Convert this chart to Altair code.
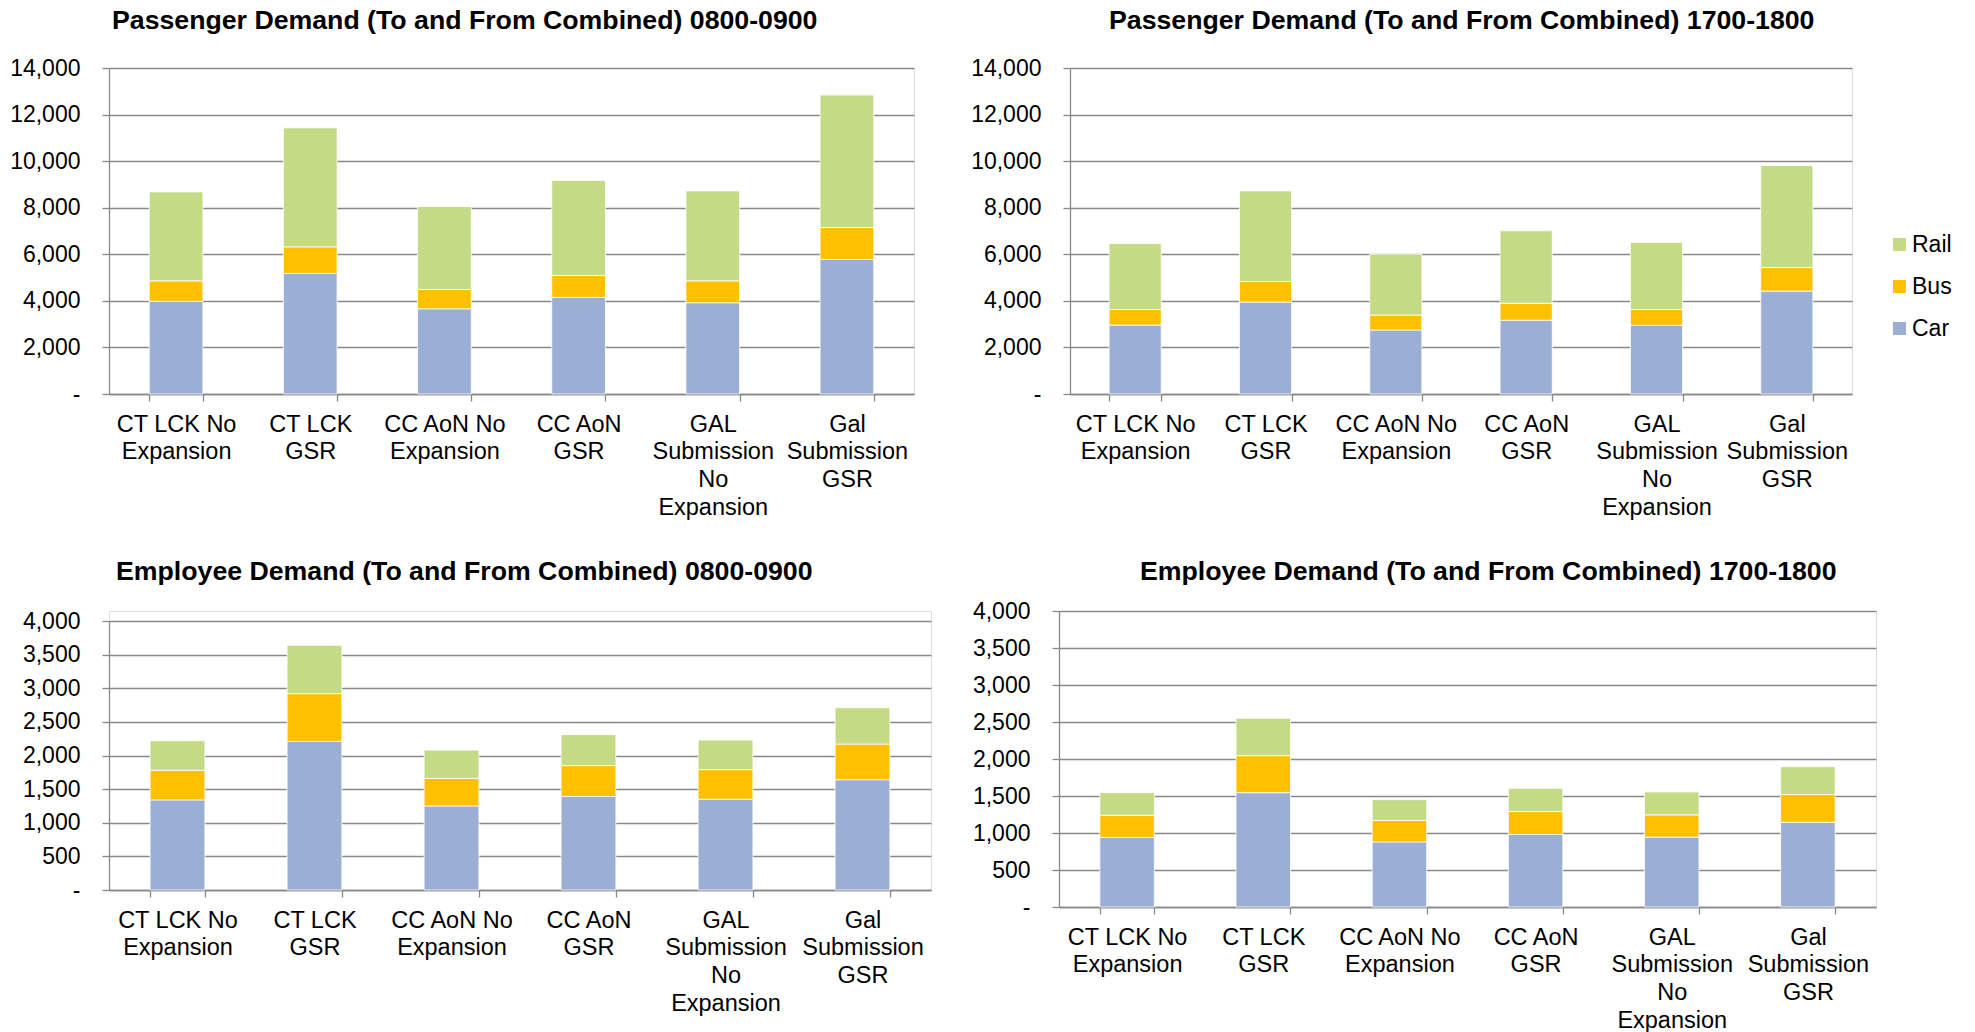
import altair as alt
import pandas as pd

FONT = "Liberation Sans"

# Scenario labels ("|" marks a line break in the axis label)
categories = [
    "CT LCK No|Expansion",
    "CT LCK|GSR",
    "CC AoN No|Expansion",
    "CC AoN|GSR",
    "GAL|Submission|No|Expansion",
    "Gal|Submission|GSR",
]
modes = ["Car", "Bus", "Rail"]

# Passenger demand 0800-0900
pax_am_car = [3980, 5180, 3660, 4150, 3920, 5780]
pax_am_bus = [880, 1140, 830, 940, 940, 1370]
pax_am_rail = [3820, 5110, 3560, 4080, 3860, 5690]

# Passenger demand 1700-1800
pax_pm_car = [2960, 3950, 2750, 3170, 2950, 4420]
pax_pm_bus = [670, 880, 640, 730, 680, 1010]
pax_pm_rail = [2830, 3890, 2620, 3110, 2880, 4380]

# Employee demand 0800-0900
emp_am_car = [1340, 2210, 1250, 1390, 1350, 1640]
emp_am_bus = [440, 710, 410, 460, 440, 530]
emp_am_rail = [440, 720, 420, 460, 440, 540]

# Employee demand 1700-1800
emp_pm_car = [940, 1545, 880, 980, 945, 1145]
emp_pm_bus = [300, 500, 290, 310, 300, 375]
emp_pm_rail = [305, 505, 280, 315, 310, 375]

CAR = "#9BAFD4"
BUS = "#FFC000"
RAIL = "#C4DA84"
GRID = "#898989"


def frame(car, bus, rail):
    rows = []
    for i, cat in enumerate(categories):
        for k, (mode, vals) in enumerate(zip(modes, (car, bus, rail))):
            rows.append({"scenario": cat, "mode": mode, "order": k, "value": vals[i]})
    return pd.DataFrame(rows)


color = alt.Color(
    "mode:N",
    scale=alt.Scale(domain=["Rail", "Bus", "Car"], range=[RAIL, BUS, CAR]),
    legend=alt.Legend(
        title=None,
        orient="none",
        legendX=1779,
        legendY=165,
        symbolType="square",
        symbolSize=169,
        symbolStrokeWidth=0,
        labelFont=FONT,
        labelFontSize=23,
        labelColor="black",
        labelOffset=1,
        rowPadding=18,
        padding=0,
    ),
)


def panel(df, title, title_dx, title_offset, ymax, ystep, width, height, yrange=None):
    if yrange is None:
        yscale = alt.Scale(domain=[0, ymax], nice=False)
    else:
        yscale = alt.Scale(domain=[0, ymax], nice=False, range=yrange)
    return (
        alt.Chart(
            df,
            title=alt.TitleParams(
                title,
                anchor="start",
                frame="group",
                dx=title_dx,
                offset=title_offset,
                baseline="alphabetic",
                font=FONT,
                fontSize=26.7,
                fontWeight="bold",
                color="black",
            ),
        )
        .mark_bar(stroke="white", strokeWidth=0.8)
        .encode(
            x=alt.X(
                "scenario:N",
                sort=categories,
                scale=alt.Scale(paddingInner=0.6, paddingOuter=0.3),
                axis=alt.Axis(
                    title=None,
                    labelAngle=0,
                    labelExpr="split(datum.label, '|')",
                    labelFont=FONT,
                    labelFontSize=23.5,
                    labelColor="black",
                    labelLineHeight=27.7,
                    labelPadding=11,
                    labelBaseline="top",
                    tickBand="extent",
                    tickSize=7,
                    tickColor=GRID,
                    tickWidth=1.3,
                    domainColor=GRID,
                    domainWidth=1.3,
                    grid=False,
                ),
            ),
            y=alt.Y(
                "value:Q",
                stack="zero",
                scale=yscale,
                axis=alt.Axis(
                    title=None,
                    values=list(range(0, ymax + 1, ystep)),
                    labelExpr="datum.value == 0 ? '-\u00a0\u00a0' : format(datum.value, ',')",
                    labelFont=FONT,
                    labelFontSize=23,
                    labelColor="black",
                    labelPadding=22,
                    tickSize=7,
                    tickColor=GRID,
                    tickWidth=1.3,
                    domainColor=GRID,
                    domainWidth=1.3,
                    grid=True,
                    gridColor=GRID,
                    gridWidth=1.3,
                ),
            ),
            color=color,
            order=alt.Order("order:Q"),
        )
        .properties(width=width, height=height)
    )


tl = panel(frame(pax_am_car, pax_am_bus, pax_am_rail),
           "Passenger Demand (To and From Combined) 0800-0900",
           3, 1, 14000, 2000, 805, 326)
tr = panel(frame(pax_pm_car, pax_pm_bus, pax_pm_rail),
           "Passenger Demand (To and From Combined) 1700-1800",
           39, 1, 14000, 2000, 782, 326)
bl = panel(frame(emp_am_car, emp_am_bus, emp_am_rail),
           "Employee Demand (To and From Combined) 0800-0900",
           7, 3, 4000, 500, 822, 279, yrange=[279, 10])
br = panel(frame(emp_pm_car, emp_pm_bus, emp_pm_rail),
           "Employee Demand (To and From Combined) 1700-1800",
           81, -7, 4000, 500, 817, 296)

top_row = alt.hconcat(tl, tr, spacing=55)
bottom_row = alt.hconcat(bl, br, spacing=39)

chart = (
    alt.vconcat(top_row, bottom_row, spacing=38)
    .properties(padding={"left": 9, "top": 7, "right": 5, "bottom": 5})
    .configure_view(strokeWidth=0, stroke="transparent")
    .configure(background="white")
)

chart.save("out.html", embed_options={"renderer": "svg", "actions": False})
